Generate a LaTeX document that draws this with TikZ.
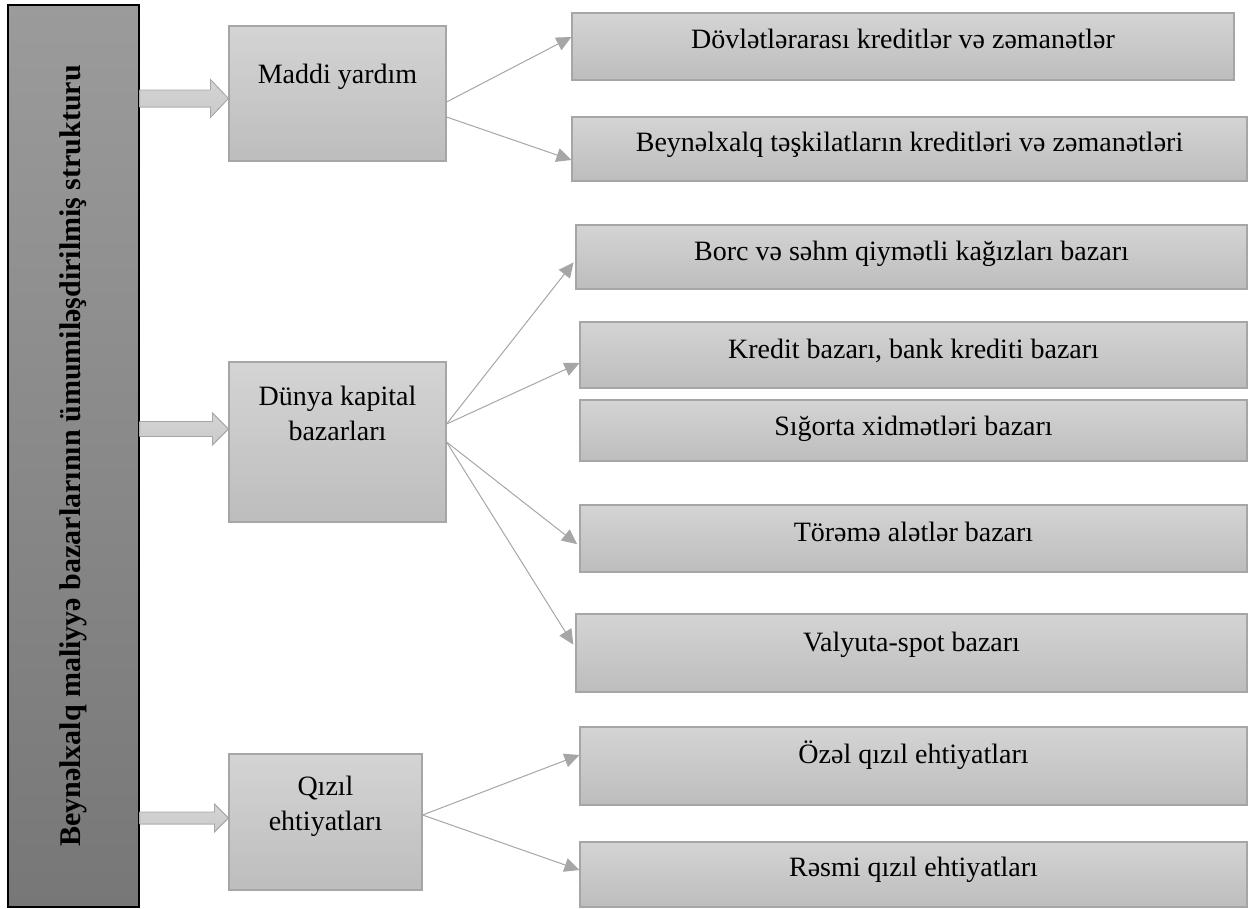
\documentclass[tikz,border=0pt]{standalone}
\usepackage{fontspec}
\setmainfont{Liberation Serif}
\usepackage{xcolor}
\usepackage{tikz}
\usetikzlibrary{arrows.meta,calc}

\definecolor{boxline}{HTML}{A6A6A6}
\definecolor{boxtop}{HTML}{D4D4D4}
\definecolor{boxbot}{HTML}{BDBDBD}
\definecolor{maintop}{HTML}{9B9B9B}
\definecolor{mainbot}{HTML}{777777}
\definecolor{blkfill}{HTML}{CACACA}

% block arrow from the main box to a group box: target, y offset, shaft half, head half, head length
\newcommand\blockarrow[5]{%
  \filldraw[blk] let \p1=([yshift=#2pt]main.east |- #1.west), \p2=([yshift=#2pt]#1.west) in
    (\x1,\y1+#3pt) -- (\x2-#5pt,\y1+#3pt) -- (\x2-#5pt,\y1+#4pt) -- (\p2)
    -- (\x2-#5pt,\y1-#4pt) -- (\x2-#5pt,\y1-#3pt) -- (\x1,\y1-#3pt) -- cycle;}

\begin{document}
\begin{tikzpicture}[x=1pt, y=-1pt,
  box/.style={rectangle, draw=boxline, line width=1.1pt, top color=boxtop, bottom color=boxbot,
    inner xsep=0pt, inner ysep=0pt, align=center, font=\fontsize{28}{35}\selectfont},
  mainbox/.style={rectangle, draw=black, line width=1.3pt, top color=maintop, bottom color=mainbot,
    minimum width=131pt, minimum height=902pt, inner sep=0pt},
  link/.style={draw=boxline, line width=1pt, -{Triangle[length=15pt,width=14pt]}},
  blk/.style={top color=boxtop, bottom color=blkfill, draw=boxline, line width=0.8pt}]
  \useasboundingbox (0,0) rectangle (1248,908);

  % main box
  \node[mainbox] (main) at (73.5,456) {};
  \node[rotate=90, font=\fontsize{30}{36}\selectfont\bfseries] (title) at (main.center)
    {Beynəlxalq maliyyə bazarlarının ümumiləşdirilmiş strukturu};

  % groups
  \node[box, minimum width=217pt, text height=57pt, text depth=78pt] (maddi) at (337.5,93.5) {Maddi yardım};
  \node[box, minimum width=217pt, text height=78pt, text depth=82pt] (dunya) at (337.5,442) {Dünya kapital\\bazarları};
  \node[box, minimum width=193pt, text height=76pt, text depth=60pt] (qizil) at (325.5,822) {Qızıl\\ehtiyatları};

  % items
  \node[box, minimum width=662pt, text height=35pt, text depth=32pt] (r1) at (903,46.5) {Dövlətlərarası kreditlər və zəmanətlər};
  \node[box, minimum width=675pt, text height=34pt, text depth=30pt] (r2) at (909.5,149) {Beynəlxalq təşkilatların kreditləri və zəmanətləri};
  \node[box, minimum width=671pt, text height=35pt, text depth=29pt] (r3) at (911.5,257) {Borc və səhm qiymətli kağızları bazarı};
  \node[box, minimum width=667pt, text height=36pt, text depth=30pt] (r4) at (913.5,355) {Kredit bazarı, bank krediti bazarı};
  \node[box, minimum width=667pt, text height=35pt, text depth=26pt] (r5) at (913.5,430.5) {Sığorta xidmətləri bazarı};
  \node[box, minimum width=667pt, text height=36pt, text depth=31pt] (r6) at (913.5,538.5) {Törəmə alətlər bazarı};
  \node[box, minimum width=671pt, text height=37pt, text depth=41pt] (r7) at (911.5,653) {Valyuta-spot bazarı};
  \node[box, minimum width=667pt, text height=36pt, text depth=42pt] (r8) at (913.5,766) {Özəl qızıl ehtiyatları};
  \node[box, minimum width=667pt, text height=34pt, text depth=31pt] (r9) at (913.5,874.5) {Rəsmi qızıl ehtiyatları};

  % block arrows
  \blockarrow{maddi}{-5}{8.5}{19}{18}
  \blockarrow{dunya}{13}{7.5}{16}{16}
  \blockarrow{qizil}{4}{6}{14}{14}

  % links
  \draw[link] ([yshift=-8.5pt]maddi.east) -- ([yshift=9.5pt]r1.west);
  \draw[link] ([yshift=-23.5pt]maddi.east) -- ([yshift=-11pt]r2.west);
  \draw[link, shorten >=3pt] ([yshift=18pt]dunya.east) -- ([yshift=-3pt]r3.west);
  \draw[link] ([yshift=18pt]dunya.east) -- ([yshift=-8pt]r4.west);
  \draw[link, shorten >=3pt] (dunya.east) -- ([yshift=-7.5pt]r6.west);
  \draw[link, shorten >=4pt] (dunya.east) -- ([yshift=5pt]r7.west);
  \draw[link] ([yshift=7pt]qizil.east) -- ([yshift=11pt]r8.west);
  \draw[link] ([yshift=7pt]qizil.east) -- ([yshift=4.5pt]r9.west);
\end{tikzpicture}
\end{document}
